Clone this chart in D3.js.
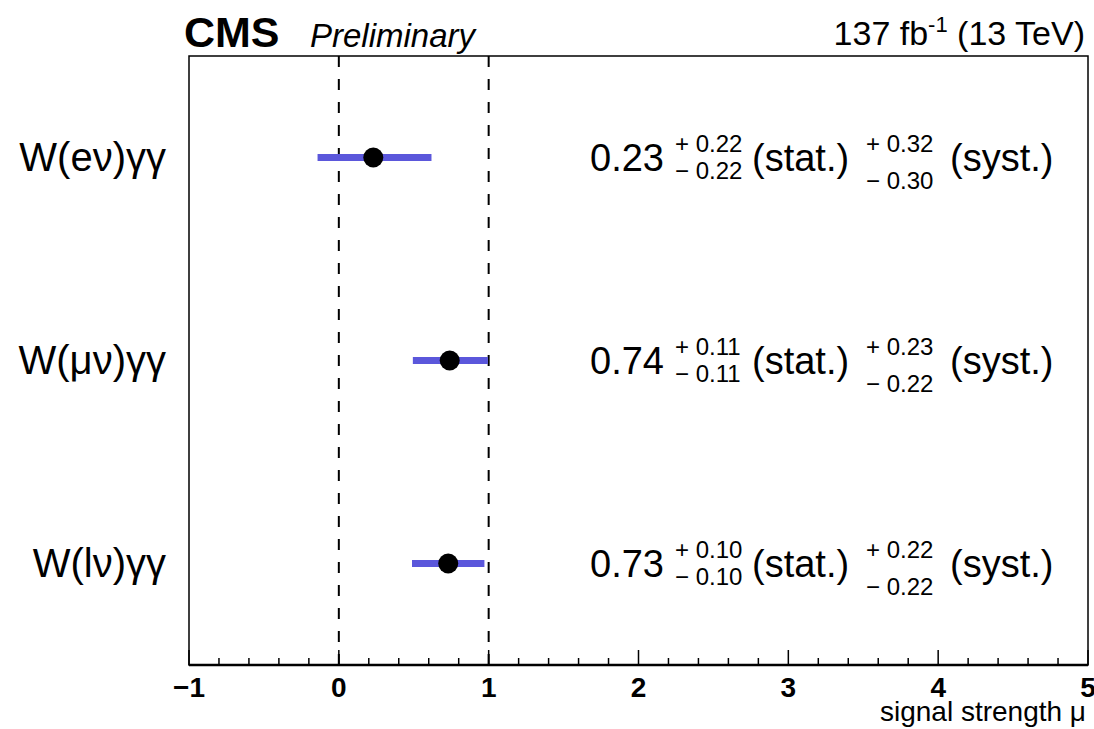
<!DOCTYPE html>
<html>
<head>
<meta charset="utf-8">
<script src="https://cdn.jsdelivr.net/npm/d3@7"></script>
<style>
  body { margin: 0; background: #fff; }
  text { font-family: "Liberation Sans", Arial, Helvetica, sans-serif; fill: #000; }
</style>
</head>
<body>
<svg id="chart" width="1094" height="729"></svg>
<script>
// channels, top to bottom
var channels = ["W(eν)γγ", "W(μν)γγ", "W(lν)γγ"];
var mu = [0.23, 0.74, 0.73];
var statUp = [0.22, 0.11, 0.10];
var statDn = [0.22, 0.11, 0.10];
var systUp = [0.32, 0.23, 0.22];
var systDn = [0.30, 0.22, 0.22];
var xTicks = [-1, 0, 1, 2, 3, 4, 5];
var refLines = [0, 1];

var svg = d3.select("#chart");
// note: "top" is reserved on window, use frame* names
var frameL = 189, frameR = 1088, frameT = 56, frameB = 665;

var x = d3.scaleLinear().domain([-1, 5]).range([frameL, frameR]);
var y = d3.scaleBand().domain(channels).range([frameT, frameB]);

// frame
svg.append("rect")
    .attr("x", frameL).attr("y", frameT)
    .attr("width", frameR - frameL).attr("height", frameB - frameT)
    .attr("fill", "none").attr("stroke", "#000").attr("stroke-width", 1.5)

// bottom axis thicker
svg.append("line")
    .attr("x1", frameL).attr("x2", frameR)
    .attr("y1", frameB).attr("y2", frameB)
    .attr("stroke", "#000").attr("stroke-width", 2.5)

// major + minor ticks (pointing up into frame)
var minor = d3.range(-1, 5.0001, 0.2)
svg.selectAll(".minor")
    .data(minor).enter()
    .append("line")
    .attr("x1", function(d){ return x(d) }).attr("x2", function(d){ return x(d) })
    .attr("y1", frameB).attr("y2", function(d){
        return Math.abs(d - Math.round(d)) < 1e-6 ? frameB - 15 : frameB - 7
    })
    .attr("stroke", "#000").attr("stroke-width", 1.5)

svg.selectAll(".tick-label")
    .data(xTicks).enter()
    .append("text")
    .attr("x", function(d){ return x(d) })
    .attr("y", 697)
    .attr("text-anchor", "middle")
    .attr("font-size", 28)
    .attr("font-weight", "bold")
    .text(function(d){ return d < 0 ? "\u2212" + Math.abs(d) : d })

svg.append("text")
    .attr("x", 1086).attr("y", 721)
    .attr("text-anchor", "end")
    .attr("font-size", 28)
    .text("signal strength \u03bc")

// dashed reference lines
svg.selectAll(".ref")
    .data(refLines).enter()
    .append("line")
    .attr("x1", function(d){ return x(d) }).attr("x2", function(d){ return x(d) })
    .attr("y1", frameT).attr("y2", frameB)
    .attr("stroke", "#000").attr("stroke-width", 2)
    .attr("stroke-dasharray", "11,12")

var rows = channels.map(function(c, i){
    return {
        name: c, mu: mu[i],
        lo: Math.sqrt(statDn[i] * statDn[i] + systDn[i] * systDn[i]),
        hi: Math.sqrt(statUp[i] * statUp[i] + systUp[i] * systUp[i]),
        su: statUp[i], sd: statDn[i], yu: systUp[i], yd: systDn[i]
    }
})

function cy(d){ return y(d.name) + y.bandwidth() / 2 }

// total uncertainty bars
svg.selectAll(".bar")
    .data(rows).enter()
    .append("line")
    .attr("x1", function(d){ return x(d.mu - d.lo) })
    .attr("x2", function(d){ return x(d.mu + d.hi) })
    .attr("y1", cy).attr("y2", cy)
    .attr("stroke", "#5b57db").attr("stroke-width", 7)

svg.selectAll(".pt")
    .data(rows).enter()
    .append("circle")
    .attr("cx", function(d){ return x(d.mu) })
    .attr("cy", cy)
    .attr("r", 10)
    .attr("fill", "#000")

// channel labels
svg.selectAll(".lab")
    .data(rows).enter()
    .append("text")
    .attr("x", 166)
    .attr("y", function(d){ return cy(d) + 13 })
    .attr("text-anchor", "end")
    .attr("font-size", 40)
    .text(function(d){ return d.name })

// result text
function f2(v){ return v.toFixed(2) }
var res = svg.selectAll(".res")
    .data(rows).enter()
    .append("g")
    .attr("transform", function(d){ return "translate(0," + cy(d) + ")" })

res.append("text").attr("x", 590).attr("y", 13).attr("font-size", 38)
    .text(function(d){ return f2(d.mu) })
res.append("text").attr("x", 675).attr("y", -6).attr("font-size", 24)
    .text(function(d){ return "+ " + f2(d.su) })
res.append("text").attr("x", 675).attr("y", 21).attr("font-size", 24)
    .text(function(d){ return "\u2212 " + f2(d.sd) })
res.append("text").attr("x", 752).attr("y", 13).attr("font-size", 38)
    .text("(stat.)")
res.append("text").attr("x", 866).attr("y", -6).attr("font-size", 24)
    .text(function(d){ return "+ " + f2(d.yu) })
res.append("text").attr("x", 866).attr("y", 31).attr("font-size", 24)
    .text(function(d){ return "\u2212 " + f2(d.yd) })
res.append("text").attr("x", 950).attr("y", 13).attr("font-size", 38)
    .text("(syst.)")

// header
svg.append("text").attr("x", 184).attr("y", 47)
    .attr("font-size", 43).attr("font-weight", "bold").text("CMS")
svg.append("text").attr("x", 310).attr("y", 47)
    .attr("font-size", 33).attr("font-style", "italic").text("Preliminary")

var lumi = svg.append("text").attr("x", 1085).attr("y", 45)
    .attr("text-anchor", "end").attr("font-size", 34)
lumi.append("tspan").text("137 fb")
lumi.append("tspan").attr("dy", -13).attr("font-size", 22).text("-1")
lumi.append("tspan").attr("dy", 13).text(" (13 TeV)")
</script>
</body>
</html>
